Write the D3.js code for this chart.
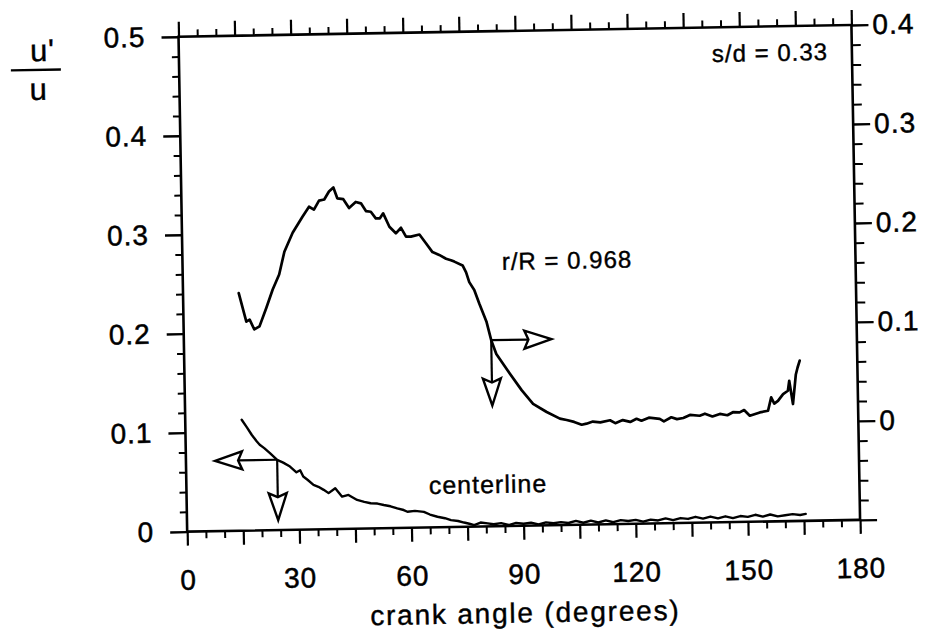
<!DOCTYPE html>
<html>
<head>
<meta charset="utf-8">
<script src="https://cdn.jsdelivr.net/npm/d3@7"></script>
<style>
  html, body { margin: 0; padding: 0; background: #ffffff; }
  svg { display: block; }
  text { font-family: "Liberation Sans", Arial, Helvetica, sans-serif; fill: #000; }
</style>
</head>
<body>
<script>
// ---------------- data ----------------
const xTickValues = [0, 30, 60, 90, 120, 150, 180];
const xTickLabels = ["0", "30", "60", "90", "120", "150", "180"];
const leftTickValues = [0, 0.1, 0.2, 0.3, 0.4, 0.5];
const leftTickLabels = ["0", "0.1", "0.2", "0.3", "0.4", "0.5"];
const rightTickValues = [0, 0.1, 0.2, 0.3, 0.4];
const rightTickLabels = ["0", "0.1", "0.2", "0.3", "0.4"];

// r/R = 0.968 series (read against right axis)
const wallAngle = [14.9, 16.8, 17.7, 18.9, 20.3, 22.2, 24.0, 25.8, 27.3, 29.6, 32.3, 34.1, 35.4, 36.8, 38.2, 39.5, 40.7, 41.7, 43.3,
  44.8, 46.6, 48.0, 49.3, 50.6, 51.9, 53.0, 53.9, 55.5, 57.2, 58.6, 59.9, 61.2, 63.5, 65.2, 66.9, 68.7, 70.5, 71.8, 72.7, 74.9,
  75.8, 76.6, 77.9, 79.2, 81.0, 82.2, 83.5, 87.0, 90.1, 93.1, 96.7, 100.2, 102, 104, 106, 107.3, 109, 111, 113.6, 115, 117, 119,
  120.7, 122, 124, 126.9, 128, 130, 131.5, 133.2, 135, 137.6, 139, 141, 143, 145, 146.5, 148.3, 149.5, 151, 153.7, 155.9, 156.8,
  157.6, 158.6, 160.0, 161.3, 161.7, 162.3, 162.6, 163.5, 164.0, 164.6];
const wallValue = [0.140, 0.111, 0.113, 0.103, 0.106, 0.1245, 0.143, 0.158, 0.181, 0.200, 0.216, 0.226, 0.223, 0.232, 0.233, 0.241, 0.245, 0.234, 0.233,
  0.224, 0.230, 0.2285, 0.2206, 0.2198, 0.2131, 0.213, 0.218, 0.2043, 0.1976, 0.2031, 0.194, 0.194, 0.196, 0.187, 0.178, 0.175, 0.171, 0.1695, 0.168, 0.164,
  0.157, 0.147, 0.139, 0.125, 0.107, 0.088, 0.074, 0.054, 0.037, 0.023, 0.0145, 0.0076, 0.006, 0.004, 0.001, 0.002, 0.004, 0.003, 0.005, 0.002, 0.005, 0.003,
  0.006, 0.004, 0.007, 0.0056, 0.003, 0.007, 0.005, 0.006, 0.009, 0.008, 0.010, 0.007, 0.0095, 0.008, 0.011, 0.0107, 0.013, 0.0072, 0.0103, 0.0118, 0.0253,
  0.019, 0.0217, 0.0284, 0.0317, 0.0417, 0.026, 0.0182, 0.048, 0.055, 0.062];

// centerline series (read against left axis)
const clAngle = [15.1, 16.5, 17.7, 19.0, 19.8, 21.0, 22.5, 24.4, 26.0, 27.8, 29.5, 30.5, 31.3, 32.5, 34.0, 35.3, 36.7, 38.0, 39.8, 41.6,
  43.3, 45.6, 47.5, 49.2, 51.0, 52.7, 54.5, 56.3, 58.0, 59.0, 61.0, 63.4, 65.0, 67.0, 69.0, 70.6, 72.5, 74.1, 75.5, 76.8, 78.5, 80.4,
  82, 84, 86, 88, 90, 92, 94, 96, 98, 100, 102, 104, 106, 108, 110, 112, 114, 116, 118, 120, 122, 124, 126, 128, 130, 132, 134, 136,
  138, 140, 142, 144, 146, 148, 150, 152, 154, 156, 158, 160, 162, 164, 165.5];
const clValue = [0.112, 0.104, 0.0967, 0.090, 0.0865, 0.083, 0.0779, 0.0709, 0.068, 0.0639, 0.058, 0.060, 0.0536, 0.050, 0.045, 0.043, 0.0398, 0.0364, 0.0412, 0.0326,
  0.0342, 0.029, 0.027, 0.0254, 0.025, 0.0234, 0.022, 0.0198, 0.018, 0.0162, 0.017, 0.0158, 0.013, 0.0106, 0.009, 0.007, 0.006, 0.0043, 0.003, 0.0015, 0.004, 0.003,
  0.002, 0.003, 0.001, 0.003, 0.002, 0.003, 0.001, 0.003, 0.002, 0.003, 0.002, 0.004, 0.002, 0.004, 0.002, 0.004, 0.002, 0.004, 0.003, 0.004, 0.002, 0.004, 0.003, 0.005,
  0.003, 0.005, 0.004, 0.006, 0.004, 0.006, 0.004, 0.006, 0.004, 0.006, 0.005, 0.007, 0.005, 0.007, 0.005, 0.006, 0.007, 0.006, 0.007];

// arrow annotations: [junction angle, junction value, horizontal tip angle, vertical tip value]
const clArrow = [24.4, 0.071, 7.8, 0.010];      // left axis
const wallArrow = [82.2, 0.088, 98.3, 0.022];   // right axis

// ---------------- layout ----------------
const W = 926, H = 633;
const pL = 182.8, pR = 855.8, pT = 30.8, pB = 525.8;

const svg = d3.select("body").append("svg").attr("width", W).attr("height", H);
svg.append("rect").attr("width", W).attr("height", H).attr("fill", "#fff");
const g = svg.append("g").attr("transform", "rotate(-1,519.3,278.3)");

const x = d3.scaleLinear().domain([0, 180]).range([pL, pR]);
const yL = d3.scaleLinear().domain([0, 0.5]).range([pB, pT]);
const yR = d3.scaleLinear().domain([-0.1, 0.4]).range([pB, pT]);

const FONT = 28;
function styleAxis(sel, sw) {
  sel.select(".domain").remove();
  sel.selectAll(".tick line").attr("stroke", "#000").attr("stroke-width", sw);
  sel.selectAll(".tick text").attr("font-size", FONT).attr("fill", "#000")
    .attr("stroke", "#000").attr("stroke-width", 0.5).style("letter-spacing", "1px")
    .attr("font-family", "Liberation Sans, Arial, sans-serif");
}

const minorX = d3.range(0, 181, 5).filter(d => d % 15 !== 0);
const midX = d3.range(0, 181, 15);

// bottom
g.append("g").attr("transform", `translate(0,${pB})`)
  .call(d3.axisBottom(x).tickValues(minorX).tickSize(7).tickFormat(""))
  .call(s => styleAxis(s, 2));
g.append("g").attr("transform", `translate(0,${pB})`)
  .call(d3.axisBottom(x).tickValues(midX).tickSize(14).tickPadding(24)
    .tickFormat(d => { const i = xTickValues.indexOf(d); return i >= 0 ? xTickLabels[i] : ""; }))
  .call(s => styleAxis(s, 2.2));
// top
g.append("g").attr("transform", `translate(0,${pT})`)
  .call(d3.axisTop(x).tickValues(minorX).tickSize(7).tickFormat(""))
  .call(s => styleAxis(s, 2));
g.append("g").attr("transform", `translate(0,${pT})`)
  .call(d3.axisTop(x).tickValues(midX).tickSize(15).tickFormat(""))
  .call(s => styleAxis(s, 2.2));

// left
const minorY = d3.range(0, 26).map(i => i * 0.02).filter((d, i) => i % 5 !== 0);
g.append("g").attr("transform", `translate(${pL},0)`)
  .call(d3.axisLeft(yL).tickValues(minorY).tickSize(7).tickFormat(""))
  .call(s => styleAxis(s, 2));
g.append("g").attr("transform", `translate(${pL},0)`)
  .call(d3.axisLeft(yL).tickValues(leftTickValues).tickSize(17).tickPadding(16)
    .tickFormat((d, i) => leftTickLabels[i]))
  .call(s => styleAxis(s, 2.4));

// right
const minorYR = d3.range(0, 26).map(i => -0.1 + i * 0.02).filter((d, i) => i % 5 !== 0);
g.append("g").attr("transform", `translate(${pR},0)`)
  .call(d3.axisRight(yR).tickValues(minorYR).tickSize(9).tickFormat(""))
  .call(s => styleAxis(s, 2));
g.append("g").attr("transform", `translate(${pR},0)`)
  .call(d3.axisRight(yR).tickValues([-0.1].concat(rightTickValues)).tickSize(17).tickPadding(4)
    .tickFormat(d => { const i = rightTickValues.findIndex(v => Math.abs(v - d) < 1e-9); return i >= 0 ? rightTickLabels[i] : ""; }))
  .call(s => styleAxis(s, 2.4));

// frame
g.append("rect").attr("x", pL).attr("y", pT).attr("width", pR - pL).attr("height", pB - pT)
  .attr("fill", "none").attr("stroke", "#000").attr("stroke-width", 2.6);

// series
const lineL = d3.line().x(d => x(d[0])).y(d => yL(d[1]));
const lineR = d3.line().x(d => x(d[0])).y(d => yR(d[1]));
g.append("path").datum(wallAngle.map((a, i) => [a, wallValue[i]]))
  .attr("d", lineR).attr("fill", "none").attr("stroke", "#000").attr("stroke-width", 2.7)
  .attr("stroke-linejoin", "round").attr("stroke-linecap", "round");
g.append("path").datum(clAngle.map((a, i) => [a, clValue[i]]))
  .attr("d", lineL).attr("fill", "none").attr("stroke", "#000").attr("stroke-width", 2.4)
  .attr("stroke-linejoin", "round").attr("stroke-linecap", "round");

// arrows
function arrow(x1, y1, x2, y2) {
  const L = 27, hw = 9, notch = 4;
  const dx = x2 - x1, dy = y2 - y1, len = Math.hypot(dx, dy);
  const ux = dx / len, uy = dy / len, px = -uy, py = ux;
  const bx = x2 - ux * L, by = y2 - uy * L;
  const nx = bx + ux * notch, ny = by + uy * notch;
  g.append("line").attr("x1", x1).attr("y1", y1).attr("x2", nx).attr("y2", ny)
    .attr("stroke", "#000").attr("stroke-width", 2.2);
  g.append("path").attr("d", `M${x2},${y2}L${bx + px * hw},${by + py * hw}L${nx},${ny}L${bx - px * hw},${by - py * hw}Z`)
    .attr("fill", "#fff").attr("stroke", "#000").attr("stroke-width", 2.4).attr("stroke-linejoin", "miter");
}
arrow(x(clArrow[0]), yL(clArrow[1]), x(clArrow[2]), yL(clArrow[1]));
arrow(x(clArrow[0]), yL(clArrow[1]), x(clArrow[0]), yL(clArrow[3]));
arrow(x(wallArrow[0]), yR(wallArrow[1]), x(wallArrow[2]), yR(wallArrow[1]));
arrow(x(wallArrow[0]), yR(wallArrow[1]), x(wallArrow[0]), yR(wallArrow[3]));

// texts
function txt(str, tx, ty, size, anchor, ls) {
  return g.append("text").attr("x", tx).attr("y", ty).attr("font-size", size)
    .attr("text-anchor", anchor || "middle").attr("stroke", "#000").attr("stroke-width", 0.4)
    .style("letter-spacing", (ls || 1) + "px").text(str);
}
txt("s/d = 0.33", 773.9, 65.5, 24, "middle", 1);
txt("r/R = 0.968", 567.3, 269.5, 24, "middle", 1);
txt("centerline", 484.4, 492.5, 25, "middle", 1);
txt("crank angle (degrees)", 519.5, 622.5, 28, "middle", 1.8);

// y-axis label u'/u
txt("u'", 34, 52.7, 31, "start", 1);
txt("u", 33, 91.5, 31, "start", 1);
g.append("line").attr("x1", 14.6).attr("x2", 64.6).attr("y1", 61.5).attr("y2", 61.5)
  .attr("stroke", "#000").attr("stroke-width", 2.4);
</script>
</body>
</html>
